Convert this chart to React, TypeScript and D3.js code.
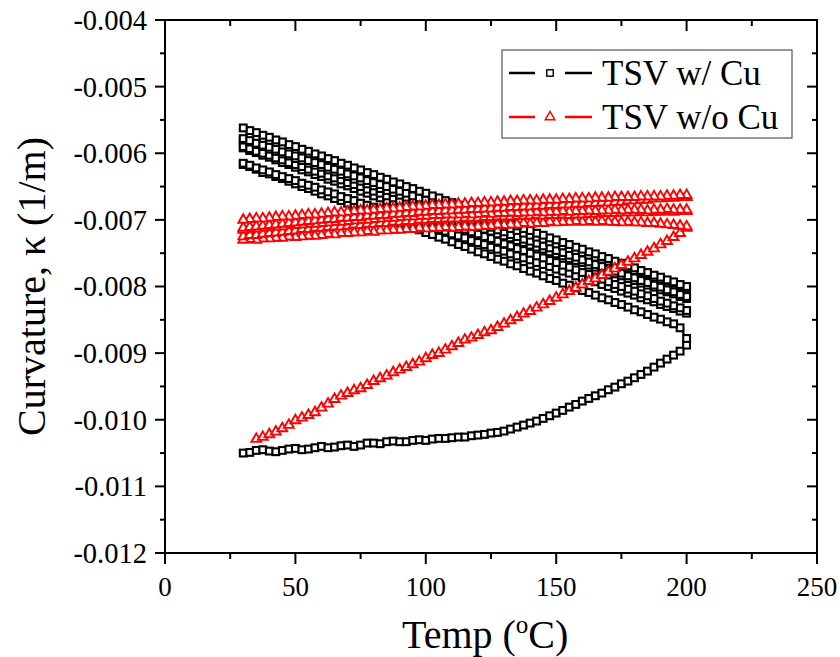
import React from 'react';
import * as d3 from 'd3';

// ---------------- data ----------------
// temperature grid (°C)
const temps = [
  30, 32.5, 35, 37.5, 40, 42.5, 45, 47.5,
  50, 52.5, 55, 57.5, 60, 62.5, 65, 67.5,
  70, 72.5, 75, 77.5, 80, 82.5, 85, 87.5,
  90, 92.5, 95, 97.5, 100, 102.5, 105, 107.5,
  110, 112.5, 115, 117.5, 120, 122.5, 125, 127.5,
  130, 132.5, 135, 137.5, 140, 142.5, 145, 147.5,
  150, 152.5, 155, 157.5, 160, 162.5, 165, 167.5,
  170, 172.5, 175, 177.5, 180, 182.5, 185, 187.5,
  190, 192.5, 195, 197.5, 200,
];

// curvature values in 10^-3 1/m, listed in ascending temperature order
// TSV w/ Cu
const cuHeat1 = [
  -10.50, -10.49, -10.46, -10.45, -10.47, -10.48, -10.46, -10.44,
  -10.43, -10.45, -10.44, -10.42, -10.40, -10.42, -10.41, -10.39,
  -10.38, -10.40, -10.38, -10.35, -10.35, -10.36, -10.33, -10.32,
  -10.33, -10.33, -10.31, -10.30, -10.31, -10.29, -10.28, -10.28,
  -10.27, -10.26, -10.26, -10.24, -10.23, -10.22, -10.20, -10.19,
  -10.17, -10.14, -10.11, -10.08, -10.05, -10.02, -9.98, -9.94,
  -9.90, -9.86, -9.81, -9.77, -9.72, -9.68, -9.64, -9.60,
  -9.55, -9.51, -9.46, -9.42, -9.37, -9.32, -9.27, -9.21,
  -9.15, -9.09, -9.03, -8.97, -8.88,
];
const cuCool1 = [
  -6.17, -6.20, -6.24, -6.29, -6.31, -6.35, -6.38, -6.42,
  -6.46, -6.50, -6.53, -6.57, -6.61, -6.64, -6.68, -6.71,
  -6.75, -6.79, -6.82, -6.86, -6.89, -6.93, -6.97, -7.00,
  -7.04, -7.08, -7.11, -7.15, -7.19, -7.22, -7.26, -7.29,
  -7.33, -7.37, -7.40, -7.44, -7.48, -7.51, -7.55, -7.59,
  -7.62, -7.66, -7.69, -7.73, -7.77, -7.80, -7.84, -7.88,
  -7.91, -7.95, -7.98, -8.02, -8.06, -8.09, -8.13, -8.17,
  -8.20, -8.24, -8.27, -8.31, -8.35, -8.38, -8.42, -8.46,
  -8.49, -8.53, -8.56, -8.62, -8.78,
];
const cuHeat2 = [
  -6.15, -6.18, -6.22, -6.25, -6.28, -6.32, -6.35, -6.38,
  -6.41, -6.45, -6.48, -6.51, -6.55, -6.58, -6.61, -6.65,
  -6.68, -6.71, -6.75, -6.78, -6.81, -6.84, -6.88, -6.91,
  -6.94, -6.98, -7.01, -7.04, -7.08, -7.11, -7.14, -7.17,
  -7.21, -7.24, -7.27, -7.31, -7.34, -7.37, -7.41, -7.44,
  -7.47, -7.51, -7.54, -7.57, -7.60, -7.64, -7.67, -7.70,
  -7.74, -7.77, -7.80, -7.84, -7.87, -7.90, -7.93, -7.97,
  -8.00, -8.03, -8.07, -8.10, -8.13, -8.17, -8.20, -8.23,
  -8.27, -8.30, -8.33, -8.37, -8.40,
];
const cuCool2 = [
  -5.92, -5.96, -5.99, -6.03, -6.06, -6.10, -6.14, -6.17,
  -6.21, -6.25, -6.28, -6.32, -6.35, -6.39, -6.42, -6.46,
  -6.49, -6.53, -6.57, -6.60, -6.64, -6.67, -6.71, -6.75,
  -6.78, -6.82, -6.85, -6.89, -6.92, -6.96, -7.00, -7.03,
  -7.07, -7.10, -7.14, -7.18, -7.21, -7.25, -7.28, -7.32,
  -7.36, -7.39, -7.43, -7.46, -7.50, -7.54, -7.57, -7.61,
  -7.64, -7.68, -7.71, -7.75, -7.79, -7.82, -7.86, -7.89,
  -7.93, -7.97, -8.00, -8.04, -8.07, -8.11, -8.14, -8.18,
  -8.22, -8.25, -8.29, -8.32, -8.36,
];
const cuHeat3 = [
  -5.90, -5.93, -5.97, -6.00, -6.03, -6.07, -6.10, -6.14,
  -6.17, -6.20, -6.24, -6.27, -6.30, -6.34, -6.37, -6.40,
  -6.44, -6.47, -6.50, -6.54, -6.57, -6.60, -6.64, -6.67,
  -6.71, -6.74, -6.77, -6.81, -6.84, -6.87, -6.91, -6.94,
  -6.97, -7.01, -7.04, -7.07, -7.11, -7.14, -7.17, -7.21,
  -7.24, -7.27, -7.31, -7.34, -7.38, -7.41, -7.44, -7.48,
  -7.51, -7.54, -7.58, -7.61, -7.64, -7.68, -7.71, -7.74,
  -7.78, -7.81, -7.84, -7.88, -7.91, -7.95, -7.98, -8.01,
  -8.05, -8.08, -8.11, -8.15, -8.18,
];
const cuCool3 = [
  -5.80, -5.83, -5.87, -5.90, -5.94, -5.97, -6.01, -6.04,
  -6.08, -6.11, -6.15, -6.18, -6.21, -6.25, -6.28, -6.32,
  -6.35, -6.39, -6.42, -6.46, -6.49, -6.53, -6.56, -6.59,
  -6.63, -6.66, -6.70, -6.73, -6.77, -6.80, -6.84, -6.87,
  -6.91, -6.94, -6.97, -7.01, -7.04, -7.08, -7.11, -7.15,
  -7.18, -7.22, -7.25, -7.29, -7.32, -7.35, -7.39, -7.42,
  -7.46, -7.49, -7.53, -7.56, -7.60, -7.63, -7.67, -7.70,
  -7.74, -7.77, -7.80, -7.84, -7.87, -7.91, -7.94, -7.98,
  -8.01, -8.05, -8.08, -8.12, -8.15,
];
const cuHeat4 = [
  -5.78, -5.81, -5.85, -5.88, -5.91, -5.94, -5.98, -6.01,
  -6.04, -6.07, -6.11, -6.14, -6.17, -6.21, -6.24, -6.27,
  -6.31, -6.34, -6.37, -6.41, -6.44, -6.47, -6.50, -6.54,
  -6.57, -6.60, -6.64, -6.67, -6.70, -6.73, -6.77, -6.80,
  -6.83, -6.87, -6.90, -6.93, -6.97, -7.00, -7.03, -7.06,
  -7.10, -7.13, -7.16, -7.20, -7.23, -7.26, -7.29, -7.33,
  -7.36, -7.39, -7.43, -7.46, -7.49, -7.53, -7.56, -7.59,
  -7.62, -7.66, -7.69, -7.72, -7.76, -7.79, -7.82, -7.86,
  -7.89, -7.92, -7.95, -7.99, -8.02,
];
const cuCool4 = [
  -5.62, -5.66, -5.69, -5.73, -5.76, -5.80, -5.83, -5.87,
  -5.90, -5.94, -5.97, -6.01, -6.04, -6.08, -6.11, -6.15,
  -6.18, -6.22, -6.25, -6.29, -6.32, -6.36, -6.39, -6.43,
  -6.46, -6.50, -6.53, -6.57, -6.60, -6.64, -6.67, -6.71,
  -6.74, -6.78, -6.81, -6.85, -6.88, -6.92, -6.95, -6.99,
  -7.02, -7.06, -7.09, -7.13, -7.16, -7.20, -7.23, -7.27,
  -7.30, -7.34, -7.37, -7.41, -7.44, -7.48, -7.51, -7.55,
  -7.58, -7.62, -7.65, -7.69, -7.72, -7.76, -7.79, -7.83,
  -7.86, -7.90, -7.93, -7.97, -8.00,
];

// TSV w/o Cu (first heating starts at 35 °C = temps[2])
const noCuHeat1 = [
  -10.29, -10.26, -10.22, -10.18, -10.13, -10.08, -10.01, -9.97,
  -9.93, -9.89, -9.82, -9.76, -9.69, -9.64, -9.60, -9.56,
  -9.53, -9.48, -9.42, -9.38, -9.34, -9.29, -9.25, -9.21,
  -9.17, -9.13, -9.08, -9.03, -9.00, -8.95, -8.90, -8.85,
  -8.80, -8.77, -8.73, -8.69, -8.66, -8.61, -8.56, -8.51,
  -8.46, -8.41, -8.37, -8.32, -8.27, -8.22, -8.17, -8.12,
  -8.07, -8.02, -7.97, -7.92, -7.88, -7.83, -7.78, -7.73,
  -7.68, -7.63, -7.58, -7.53, -7.48, -7.43, -7.37, -7.32,
  -7.26, -7.20, -7.12,
];
const noCuCool1 = [
  -7.30, -7.29, -7.30, -7.28, -7.28, -7.27, -7.27, -7.25,
  -7.26, -7.25, -7.24, -7.24, -7.23, -7.21, -7.22, -7.20,
  -7.20, -7.19, -7.19, -7.17, -7.18, -7.16, -7.16, -7.15,
  -7.15, -7.14, -7.14, -7.12, -7.13, -7.12, -7.12, -7.11,
  -7.12, -7.11, -7.10, -7.11, -7.10, -7.09, -7.09, -7.07,
  -7.08, -7.07, -7.07, -7.05, -7.06, -7.05, -7.05, -7.03,
  -7.04, -7.03, -7.03, -7.02, -7.03, -7.02, -7.03, -7.02,
  -7.03, -7.03, -7.04, -7.03, -7.04, -7.04, -7.05, -7.05,
  -7.06, -7.07, -7.08, -7.09, -7.10,
];
const noCuHeat2 = [
  -7.25, -7.23, -7.23, -7.21, -7.20, -7.19, -7.18, -7.17,
  -7.16, -7.14, -7.14, -7.12, -7.12, -7.11, -7.10, -7.10,
  -7.09, -7.07, -7.08, -7.06, -7.06, -7.05, -7.05, -7.03,
  -7.03, -7.02, -7.02, -7.00, -7.00, -6.99, -6.99, -6.98,
  -6.98, -6.98, -6.97, -6.97, -6.97, -6.96, -6.96, -6.95,
  -6.95, -6.95, -6.94, -6.94, -6.94, -6.93, -6.94, -6.93,
  -6.93, -6.92, -6.93, -6.92, -6.92, -6.91, -6.91, -6.90,
  -6.90, -6.90, -6.89, -6.89, -6.89, -6.88, -6.89, -6.88,
  -6.88, -6.87, -6.88, -6.87, -6.87,
];
const noCuCool2 = [
  -7.15, -7.14, -7.13, -7.12, -7.11, -7.10, -7.10, -7.08,
  -7.08, -7.07, -7.06, -7.06, -7.05, -7.04, -7.03, -7.03,
  -7.02, -7.01, -7.00, -7.00, -6.99, -6.98, -6.97, -6.97,
  -6.96, -6.95, -6.95, -6.94, -6.94, -6.93, -6.93, -6.92,
  -6.92, -6.92, -6.91, -6.92, -6.91, -6.90, -6.91, -6.90,
  -6.90, -6.89, -6.90, -6.89, -6.89, -6.88, -6.89, -6.88,
  -6.88, -6.87, -6.88, -6.87, -6.87, -6.86, -6.87, -6.86,
  -6.86, -6.85, -6.86, -6.85, -6.85, -6.85, -6.86, -6.85,
  -6.85, -6.84, -6.85, -6.85, -6.85,
];
const noCuHeat3 = [
  -7.12, -7.11, -7.10, -7.09, -7.08, -7.07, -7.06, -7.05,
  -7.04, -7.03, -7.02, -7.01, -7.00, -6.99, -6.99, -6.97,
  -6.97, -6.96, -6.96, -6.94, -6.94, -6.93, -6.93, -6.91,
  -6.91, -6.90, -6.90, -6.88, -6.88, -6.87, -6.87, -6.86,
  -6.86, -6.85, -6.85, -6.84, -6.84, -6.83, -6.83, -6.82,
  -6.82, -6.81, -6.81, -6.80, -6.80, -6.79, -6.79, -6.78,
  -6.78, -6.77, -6.77, -6.76, -6.76, -6.75, -6.75, -6.74,
  -6.74, -6.73, -6.73, -6.71, -6.71, -6.70, -6.70, -6.68,
  -6.68, -6.67, -6.67, -6.66, -6.66,
];
const noCuCool3 = [
  -7.00, -6.99, -6.98, -6.98, -6.97, -6.96, -6.95, -6.95,
  -6.94, -6.93, -6.92, -6.92, -6.91, -6.90, -6.89, -6.89,
  -6.88, -6.87, -6.86, -6.86, -6.85, -6.84, -6.83, -6.83,
  -6.82, -6.81, -6.80, -6.80, -6.79, -6.78, -6.78, -6.77,
  -6.77, -6.76, -6.76, -6.75, -6.75, -6.74, -6.74, -6.73,
  -6.73, -6.72, -6.72, -6.71, -6.71, -6.71, -6.70, -6.70,
  -6.70, -6.69, -6.69, -6.68, -6.68, -6.68, -6.67, -6.67,
  -6.67, -6.66, -6.66, -6.66, -6.66, -6.65, -6.65, -6.65,
  -6.65, -6.64, -6.64, -6.63, -6.63,
];

const VALUE_UNIT = 1e-3; // arrays above are in 10^-3 1/m

const xDomain = [0, 250];
const yDomain = [-0.012, -0.004];
const xTicks = [0, 50, 100, 150, 200, 250];
const xMinorTicks = [25, 75, 125, 175, 225];
const yTicks = [-0.004, -0.005, -0.006, -0.007, -0.008, -0.009, -0.010, -0.011, -0.012];
const yTickLabels = ['-0.004', '-0.005', '-0.006', '-0.007', '-0.008', '-0.009', '-0.010', '-0.011', '-0.012'];
const yMinorTicks = [-0.0045, -0.0055, -0.0065, -0.0075, -0.0085, -0.0095, -0.0105, -0.0115];

const seriesNames = ['TSV w/ Cu', 'TSV w/o Cu'];
const seriesColors = ['#000000', '#ff0000'];

type Seg = { vals: number[]; offset: number; cooling: boolean };
const cuSegments: Seg[] = [
  { vals: cuHeat1, offset: 0, cooling: false },
  { vals: cuCool1, offset: 0, cooling: true },
  { vals: cuHeat2, offset: 0, cooling: false },
  { vals: cuCool2, offset: 0, cooling: true },
  { vals: cuHeat3, offset: 0, cooling: false },
  { vals: cuCool3, offset: 0, cooling: true },
  { vals: cuHeat4, offset: 0, cooling: false },
  { vals: cuCool4, offset: 0, cooling: true },
];
const noCuSegments: Seg[] = [
  { vals: noCuHeat1, offset: 2, cooling: false },
  { vals: noCuCool1, offset: 0, cooling: true },
  { vals: noCuHeat2, offset: 0, cooling: false },
  { vals: noCuCool2, offset: 0, cooling: true },
  { vals: noCuHeat3, offset: 0, cooling: false },
  { vals: noCuCool3, offset: 0, cooling: true },
];

function buildPoints(segs: Seg[]): [number, number][] {
  const pts: [number, number][] = [];
  segs.forEach((s) => {
    const idx = s.vals.map((_, i) => i);
    if (s.cooling) idx.reverse();
    idx.forEach((i) => pts.push([temps[i + s.offset], s.vals[i] * VALUE_UNIT]));
  });
  return pts;
}

const FONT = '"Liberation Serif", serif';

export default function App() {
  const W = 840;
  const H = 657;
  const L = 165, R = 817, T = 20, B = 553;
  const x = d3.scaleLinear().domain(xDomain).range([L, R]);
  const y = d3.scaleLinear().domain(yDomain).range([B, T]);
  const line = d3.line<[number, number]>().x((d) => x(d[0])).y((d) => y(d[1]));

  const cuPts = buildPoints(cuSegments);
  const noCuPts = buildPoints(noCuSegments);
  const tri = d3.symbol().type(d3.symbolTriangle).size(42)() as string;
  const legTri = d3.symbol().type(d3.symbolTriangle).size(40)() as string;
  const sq = 6.8;
  const txt = { fontFamily: FONT, fill: '#000' } as const;

  return (
    <svg width={W} height={H} style={{ position: 'absolute', left: 0, top: 0, background: '#fff', fontFamily: FONT }}>
      <rect x={0} y={0} width={W} height={H} fill="#fff" />
      {/* series 1: TSV w/ Cu */}
      <path d={line(cuPts) as string} fill="none" stroke={seriesColors[0]} strokeWidth={2} />
      <g>
        {cuPts.map((p, i) => (
          <rect key={i} x={x(p[0]) - sq / 2} y={y(p[1]) - sq / 2} width={sq} height={sq}
            fill="#fff" stroke={seriesColors[0]} strokeWidth={2.1} />
        ))}
      </g>
      {/* series 2: TSV w/o Cu */}
      <path d={line(noCuPts) as string} fill="none" stroke={seriesColors[1]} strokeWidth={2} />
      <g>
        {noCuPts.map((p, i) => (
          <path key={i} d={tri} transform={`translate(${x(p[0])},${y(p[1])})`}
            fill="#fff" stroke={seriesColors[1]} strokeWidth={1.9} />
        ))}
      </g>

      {/* frame */}
      <rect x={L} y={T} width={R - L} height={B - T} fill="none" stroke="#000" strokeWidth={2} />
      {/* x ticks */}
      {xTicks.map((t) => (
        <g key={'xt' + t}>
          <line x1={x(t)} x2={x(t)} y1={B} y2={B + 11} stroke="#000" strokeWidth={2} />
          <line x1={x(t)} x2={x(t)} y1={T} y2={T + 11} stroke="#000" strokeWidth={2} />
          <text x={x(t)} y={596} textAnchor="middle" fontSize={27} style={txt}>{t}</text>
        </g>
      ))}
      {xMinorTicks.map((t) => (
        <g key={'xm' + t}>
          <line x1={x(t)} x2={x(t)} y1={B} y2={B + 6} stroke="#000" strokeWidth={2} />
          <line x1={x(t)} x2={x(t)} y1={T} y2={T + 6} stroke="#000" strokeWidth={2} />
        </g>
      ))}
      {/* y ticks */}
      {yTicks.map((t, i) => (
        <g key={'yt' + i}>
          <line x1={L - 10} x2={L} y1={y(t)} y2={y(t)} stroke="#000" strokeWidth={2} />
          <line x1={R - 10} x2={R} y1={y(t)} y2={y(t)} stroke="#000" strokeWidth={2} />
          <text x={147} y={y(t)} dy="0.35em" textAnchor="end" fontSize={28.5} style={txt}>{yTickLabels[i]}</text>
        </g>
      ))}
      {yMinorTicks.map((t, i) => (
        <g key={'ym' + i}>
          <line x1={L - 5} x2={L} y1={y(t)} y2={y(t)} stroke="#000" strokeWidth={2} />
          <line x1={R - 5} x2={R} y1={y(t)} y2={y(t)} stroke="#000" strokeWidth={2} />
        </g>
      ))}

      {/* axis titles */}
      <text x={402} y={648} fontSize={40} style={txt}>
        Temp (<tspan fontSize={25} dy={-15}>o</tspan><tspan dy={15}>C)</tspan>
      </text>
      <text transform={`translate(45,${(T + B) / 2}) rotate(-90)`} textAnchor="middle" fontSize={40} style={txt}>
        Curvature, κ (1/m)
      </text>

      {/* legend */}
      <rect x={502} y={50} width={290} height={88} fill="#fff" stroke="#333" strokeWidth={1} />
      {seriesNames.map((name, i) => {
        const cy = 73 + i * 44;
        return (
          <g key={name}>
            <line x1={509} x2={535} y1={cy} y2={cy} stroke={seriesColors[i]} strokeWidth={2.5} />
            <line x1={565} x2={592} y1={cy} y2={cy} stroke={seriesColors[i]} strokeWidth={2.5} />
            {i === 0 ? (
              <rect x={550 - 3.2} y={cy - 3.2} width={6.4} height={6.4} fill="#fff" stroke={seriesColors[i]} strokeWidth={1.4} />
            ) : (
              <path d={legTri} transform={`translate(550,${cy})`} fill="#fff" stroke={seriesColors[i]} strokeWidth={1.4} />
            )}
            <text x={602} y={cy + 12} fontSize={35} style={txt}>{name}</text>
          </g>
        );
      })}
    </svg>
  );
}
